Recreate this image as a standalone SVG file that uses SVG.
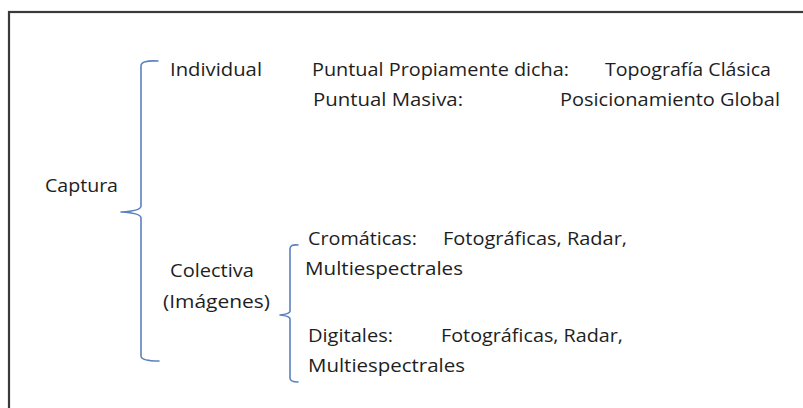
<svg xmlns="http://www.w3.org/2000/svg" width="803" height="408" viewBox="0 0 803 408">
<style>
text{font-family:"Open Sans","Liberation Sans",sans-serif;font-size:18px;fill:#1e1e1e}
.br{fill:none;stroke:#5b82bf;stroke-width:1.6;stroke-linecap:round;stroke-linejoin:round}
</style>
<rect x="0" y="0" width="803" height="408" fill="#fff"/>
<rect x="9" y="12" width="820" height="420" fill="none" stroke="#3a3a3a" stroke-width="2.2"/>
<g id="connectors">
<path class="br" d="M158,61 Q141,60 141,66 L141,206 Q141,211 121,212 Q141,213 141,218 L141,356 Q141,361 159,361"/>
<path class="br" d="M298,245 Q290,244 290,249 L290,311 Q290,314 280,315 Q290,316 290,319 L290,378 Q290,382 298,382"/>
</g>
<g id="captura"><text x="45" y="192" textLength="73" lengthAdjust="spacingAndGlyphs">Captura</text></g>
<g id="individual"><text x="170" y="76" textLength="92" lengthAdjust="spacingAndGlyphs">Individual</text></g>
<g id="puntual-propia">
<text x="312" y="76" textLength="257" lengthAdjust="spacingAndGlyphs">Puntual Propiamente dicha:</text>
<text x="605" y="76" textLength="166" lengthAdjust="spacingAndGlyphs">Topografía Clásica</text>
</g>
<g id="puntual-masiva">
<text x="313" y="106" textLength="150" lengthAdjust="spacingAndGlyphs">Puntual Masiva:</text>
<text x="560" y="106" textLength="220" lengthAdjust="spacingAndGlyphs">Posicionamiento Global</text>
</g>
<g id="colectiva">
<text x="170" y="277" textLength="84" lengthAdjust="spacingAndGlyphs">Colectiva</text>
<text x="163" y="308" textLength="107" lengthAdjust="spacingAndGlyphs">(Imágenes)</text>
</g>
<g id="cromaticas">
<text x="308" y="245" textLength="109" lengthAdjust="spacingAndGlyphs">Cromáticas:</text>
<text x="443" y="245" textLength="184" lengthAdjust="spacingAndGlyphs">Fotográficas, Radar,</text>
<text x="305" y="275" textLength="158" lengthAdjust="spacingAndGlyphs">Multiespectrales</text>
</g>
<g id="digitales">
<text x="308" y="342" textLength="85" lengthAdjust="spacingAndGlyphs">Digitales:</text>
<text x="441" y="342" textLength="182" lengthAdjust="spacingAndGlyphs">Fotográficas, Radar,</text>
<text x="308" y="372" textLength="157" lengthAdjust="spacingAndGlyphs">Multiespectrales</text>
</g>
</svg>
